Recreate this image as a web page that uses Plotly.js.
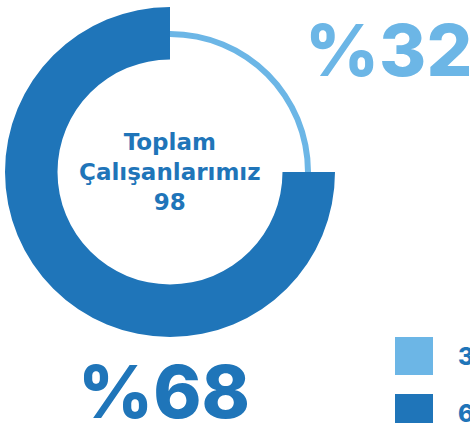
<!DOCTYPE html>
<html>
<head>
<meta charset="utf-8">
<script src="https://cdn.plot.ly/plotly-3.0.1.min.js"></script>
<style>html,body{margin:0;padding:0;background:#fff;overflow:hidden}#chart{width:470px;height:423px}</style>
</head>
<body>
<div id="chart"></div>
<script>
// Data
const labels = ["32", "68"];
const sliceValues = [25, 75];          // angular share as drawn in the picture
const percentTexts = ["%32", "%68"];
const centerTitle = ["Toplam", "Çalışanlarımız"];
const totalEmployees = 98;
const colors = ["#6cb6e6", "#1f75b9"];

const W = 470, H = 423;
const cx = 170, cy = 172;
const rOuter = 165, rInner = 112.5;
const rLight = 141, rLightIn = 135;
const FONT = "Inter, 'Open Sans', sans-serif";
const FONT_C = "'DejaVu Sans', sans-serif";

function dom(r) {
  return {
    x: [(cx - r) / W, (cx + r) / W],
    y: [1 - (cy + r) / H, 1 - (cy - r) / H]
  };
}

const transparent = "rgba(0,0,0,0)";
const darkTrace = {
  type: "pie", labels: labels, values: sliceValues, sort: false,
  direction: "clockwise", rotation: 0, hole: rInner / rOuter,
  domain: dom(rOuter), textinfo: "none", hoverinfo: "label+percent",
  marker: { colors: [transparent, colors[1]], line: { width: 0 } },
  showlegend: false
};
const lightTrace = {
  type: "pie", labels: labels, values: sliceValues, sort: false,
  direction: "clockwise", rotation: 0, hole: rLightIn / rLight,
  domain: dom(rLight), textinfo: "none", hoverinfo: "label+percent",
  marker: { colors: [colors[0], transparent], line: { width: 0 } },
  showlegend: false
};

const annotations = [
  {
    text: centerTitle[0] + "<br>" + centerTitle[1] + "<br>" + totalEmployees,
    x: cx / W, y: 1 - 172 / H, xref: "paper", yref: "paper",
    xanchor: "center", yanchor: "middle", showarrow: false,
    font: { family: FONT_C, size: 23, weight: 700, color: colors[1] }
  },
  {
    text: percentTexts[0], x: 388 / W, y: 1 - 49 / H,
    xref: "paper", yref: "paper", xanchor: "center", yanchor: "middle",
    showarrow: false, font: { family: FONT, size: 72, weight: 800, color: colors[0] }
  },
  {
    text: percentTexts[1], x: 164 / W, y: 1 - 391 / H,
    xref: "paper", yref: "paper", xanchor: "center", yanchor: "middle",
    showarrow: false, font: { family: FONT, size: 73, weight: 800, color: colors[1] }
  }
];

const shapes = [];
const legTop = [337, 394];
labels.forEach((lab, i) => {
  shapes.push({
    type: "rect", xref: "paper", yref: "paper",
    x0: 395 / W, x1: 433 / W, y0: 1 - (legTop[i] + 38) / H, y1: 1 - legTop[i] / H,
    fillcolor: colors[i], line: { width: 0 }
  });
  annotations.push({
    text: lab, x: 456 / W, y: 1 - (legTop[i] + 19) / H,
    xref: "paper", yref: "paper", xanchor: "left", yanchor: "middle",
    showarrow: false, font: { family: FONT, size: 24, weight: 800, color: colors[1] }
  });
});

Plotly.newPlot("chart", [darkTrace, lightTrace], {
  width: W, height: H, margin: { l: 0, r: 0, t: 0, b: 0 },
  paper_bgcolor: "#fff", showlegend: false,
  annotations: annotations, shapes: shapes
}, { displayModeBar: false, staticPlot: true });
</script>
</body>
</html>
